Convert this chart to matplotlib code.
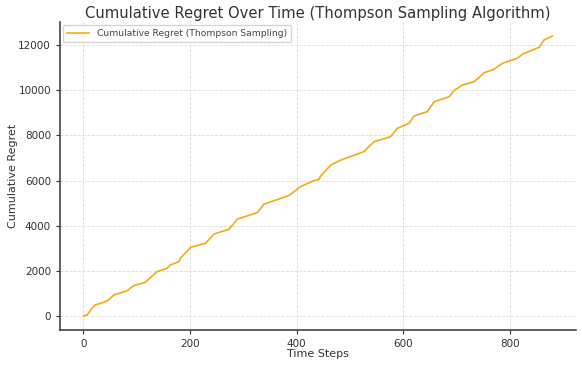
import matplotlib
matplotlib.use("Agg")
import matplotlib.pyplot as plt

time_steps = [0, 7, 16, 22, 41, 47, 57, 82, 94, 116, 138, 157, 163, 179, 182,
              201, 229, 245, 273, 289, 326, 339, 385, 395, 407, 432, 442, 445,
              464, 483, 526, 545, 576, 589, 611, 620, 645, 658, 686, 695, 711,
              733, 752, 770, 786, 814, 824, 855, 864, 880]
regret = [0, 44, 340, 487, 633, 709, 930, 1120, 1342, 1492, 1962, 2112, 2259,
          2405, 2555, 3043, 3220, 3631, 3840, 4296, 4575, 4960, 5328, 5505,
          5726, 5992, 6054, 6200, 6687, 6909, 7276, 7719, 7941, 8313, 8534,
          8857, 9048, 9490, 9712, 9978, 10230, 10377, 10775, 10926, 11191,
          11413, 11603, 11900, 12223, 12400]

title = "Cumulative Regret Over Time (Thompson Sampling Algorithm)"
xlabel = "Time Steps"
ylabel = "Cumulative Regret"
series_label = "Cumulative Regret (Thompson Sampling)"

fig = plt.figure(figsize=(5.82, 3.66), dpi=100)
ax = fig.add_axes([60/582, 36/366, 516/582, 308/366])
ax.plot(time_steps, regret, color="#f2ac17", lw=1.2, label=series_label)

ax.set_title(title, fontsize=10.6, color="#333333", pad=3)
ax.set_xlabel(xlabel, fontsize=8, color="#333333", labelpad=0)
ax.set_ylabel(ylabel, fontsize=8, color="#333333", labelpad=0)
ax.tick_params(labelsize=7.5, colors="#333333", length=3)
ax.set_xticks([0, 200, 400, 600, 800])
ax.set_yticks([0, 2000, 4000, 6000, 8000, 10000, 12000])
ax.grid(True, color="#dcdcdc", lw=0.6, ls="--")
ax.set_axisbelow(True)
for s in ["top", "right"]:
    ax.spines[s].set_visible(False)
for s in ["left", "bottom"]:
    ax.spines[s].set_color("#444444")
    ax.spines[s].set_linewidth(1.2)
leg = ax.legend(loc="upper left", fontsize=6.6, frameon=True, borderpad=0.45,
                handlelength=2.4, borderaxespad=0.35, labelcolor="#444444")
leg.get_frame().set_edgecolor("#cccccc")
fig.savefig("out.png", dpi=100)
